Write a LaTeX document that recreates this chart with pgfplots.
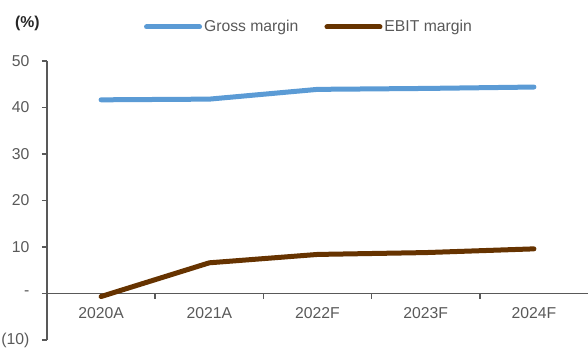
\documentclass[border=0pt]{standalone}
\usepackage{fontspec}
\setmainfont{Liberation Sans}
\usepackage{pgfplots}
\pgfplotsset{compat=1.18}
\definecolor{gm}{HTML}{5B9BD5}
\definecolor{eb}{HTML}{663300}
\definecolor{ax}{HTML}{595959}
\begin{document}
\begin{tikzpicture}
\useasboundingbox (-47bp,-11bp) rectangle (541bp,340bp);
\begin{axis}[
  at={(0,0)}, anchor=south west,
  width=541bp, height=279bp, scale only axis,
  xmin=0.5, xmax=5.5, ymin=-10, ymax=50,
  axis x line*=middle, axis y line*=left,
  xtick={1.5,2.5,3.5,4.5}, xticklabels={},
  extra x ticks={1,2,3,4,5},
  extra x tick labels={2020A,2021A,2022F,2023F,2024F},
  extra x tick style={major tick length=0pt, tick style={draw=none}},
  ytick={-10,0,10,20,30,40,50},
  yticklabels={(10),-,10,20,30,40,50},
  xtick align=outside, ytick align=outside,
  major tick length=5bp,
  tick style={draw=ax, line width=1.5bp},
  tick label style={text=ax, font=\fontsize{15.8}{17}\selectfont},
  /pgf/number format/assume math mode=true,
  x axis line style={draw=ax, line width=1.6bp},
  y axis line style={draw=ax, line width=2.2bp},
  hide obscured x ticks=false, hide obscured y ticks=false,
  xticklabel style={yshift=-10bp},
  yticklabel style={xshift=-9bp},
  clip=false,
  legend columns=2,
  legend style={draw=none, fill=none, at={(0.179,1.122)}, anchor=west,
    font=\fontsize{15.8}{17}\selectfont, text=ax, inner sep=0pt,
    /tikz/every even column/.append style={column sep=24bp}},
  legend cell align=left,
  legend image code/.code={\draw[#1, line width=5bp, line cap=round] (0bp,0bp) -- (53bp,0bp);},
]
\addplot[gm, line width=5bp, line cap=round, line join=round] coordinates {(1,41.65) (2,41.8) (3,43.9) (4,44.1) (5,44.4)};
\addlegendentry{Gross margin}
\addplot[eb, line width=5bp, line cap=round, line join=round] coordinates {(1,-0.65) (2,6.6) (3,8.4) (4,8.8) (5,9.6)};
\addlegendentry{EBIT margin}
\end{axis}
\node[anchor=west, inner sep=0pt, font=\fontsize{15.8}{17}\selectfont\bfseries, text=black!85] at (-32bp,317bp) {(\%)};
\end{tikzpicture}
\end{document}
